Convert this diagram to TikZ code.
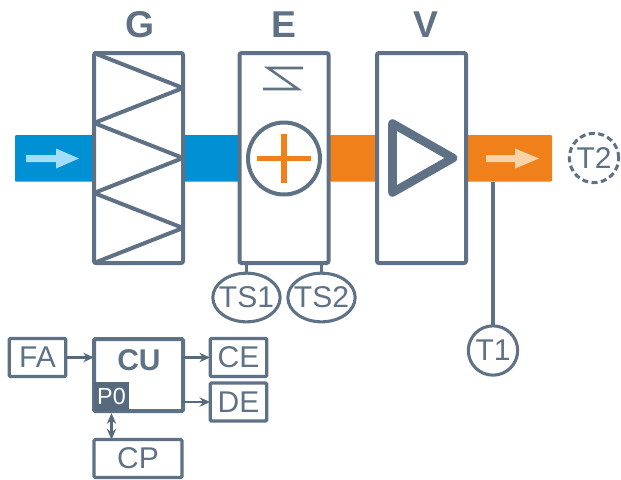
\documentclass[tikz,border=0pt]{standalone}
\usepackage{fontspec}
\setmainfont{Liberation Sans}
\usetikzlibrary{arrows.meta,shapes.geometric}
\definecolor{slate}{HTML}{5F7285}
\definecolor{darkslate}{HTML}{566A7E}
\definecolor{airblue}{HTML}{0090D4}
\definecolor{airorange}{HTML}{F0801A}
\definecolor{lightblue}{HTML}{A3DDF8}
\definecolor{lightorange}{HTML}{FBD3A8}
\newcommand{\fs}[1]{\fontsize{#1}{#1}\selectfont}
\tikzset{
  unit/.style={draw=slate,fill=white,line width=3pt,rounded corners=1.5pt,inner sep=0pt,outer sep=0pt,minimum width=66.75pt,minimum height=157.5pt},
  duct/.style={inner sep=0pt,outer sep=0pt,rounded corners=0.8pt,minimum height=34.9pt},
  title/.style={text=slate,font=\fs{28}\bfseries,inner sep=0pt},
  sensor/.style={draw=slate,fill=white,line width=2.3pt,inner sep=-9pt,outer sep=0pt,text=slate,font=\fs{22.5}},
  smallbox/.style={draw=slate,fill=white,line width=2.4pt,rounded corners=1pt,inner sep=0pt,outer sep=0pt,text=slate,font=\fs{22.5}},
  conn/.style={draw=darkslate,line width=2.1pt},
  tipped/.style={conn,-{Stealth[length=8pt,width=7pt]}},
  wire/.style={slate,line width=2.4pt},
}
\begin{document}
\begin{tikzpicture}[x=0.75pt,y=-0.75pt]
\useasboundingbox (0,0) rectangle (621,479);
% ducts
\node[duct,fill=airblue,minimum width=168.75pt] (inbar) at (127.5,158.3) {};
\node[duct,fill=airorange,minimum width=36pt] (midbar) at (354,158.3) {};
\node[duct,fill=airorange,minimum width=67.5pt] (outbar) at (507,158.3) {};
% flow arrows
\fill[lightblue] (26,155) -- (56,155) -- (56,148.5) -- (79,158.5) -- (56,168.5) -- (56,162) -- (26,162) -- cycle;
\fill[lightorange] (486,155) -- (515,155) -- (515,148.5) -- (539,158.5) -- (515,168.5) -- (515,162) -- (486,162) -- cycle;
% units
\node[unit] (G) at (138.5,158) {};
\node[unit] (E) at (284,158) {};
\node[unit] (V) at (421.5,158) {};
\node[title] (Gt) at (140,25) {G};
\node[title] (Et) at (284,25) {E};
\node[title] (Vt) at (426,25) {V};
% filter zigzag
\draw[slate,line width=3pt,line join=round] (94,53) -- (183,88) -- (94,123) -- (183,158) -- (94,193) -- (183,228) -- (94,263);
% heater symbol
\draw[slate,line width=1.9pt,line join=miter] (303,68) -- (268,68) -- (298,89) -- (263,89);
\node[draw=slate,fill=white,line width=3pt,circle,minimum size=54pt,inner sep=0pt,outer sep=0pt] (heater) at (284,158.5) {};
\draw[airorange,line width=3.8pt] (257,158.5) -- (311,158.5) (284,134) -- (284,183);
% fan
\draw[slate,line width=6.4pt,line join=round] (392.5,123.5) -- (453,158) -- (392.5,192.5) -- cycle;
% sensors
\node[sensor,ellipse,minimum width=50.5pt,minimum height=36.5pt] (TS1) at (246.5,297.5) {TS1};
\node[sensor,ellipse,minimum width=50.5pt,minimum height=36.5pt] (TS2) at (321.5,297.5) {TS2};
\draw[wire] (TS1.north) -- (TS1.north |- E.south);
\draw[wire] (TS2.north) -- (TS2.north |- E.south);
\node[sensor,circle,minimum size=37pt] (T1) at (493,350.5) {T1};
\draw[wire] (T1.north) -- (T1.north |- outbar.south);
\node[sensor,circle,minimum size=37pt,dash pattern=on 4.5pt off 2.6pt] (T2) at (594,158) {T2};
% control part
\node[smallbox,minimum width=42.5pt,minimum height=28.5pt] (FA) at (37.5,357.5) {FA};
\node[draw=slate,fill=white,line width=3pt,rounded corners=1pt,inner sep=0pt,outer sep=0pt,minimum width=66.75pt,minimum height=54pt] (CU) at (138.5,375) {};
\node[text=slate,font=\fs{22.5}\bfseries,inner sep=0pt] (CUt) at (139,360.5) {CU};
\node[fill=darkslate,text=white,font=\fs{17.5},inner sep=0pt,outer sep=0pt,minimum width=26.5pt,minimum height=22pt] (P0) at (111.5,396.5) {P0};
\node[smallbox,minimum width=42.5pt,minimum height=28.5pt] (CE) at (238.5,357.5) {CE};
\node[smallbox,minimum width=42.5pt,minimum height=28.5pt] (DE) at (238.5,402) {DE};
\node[smallbox,minimum width=66pt,minimum height=28.5pt] (CP) at (138,458.5) {CP};
\draw[tipped] (FA.east) -- (FA.east -| CU.west);
\draw[tipped] (CE.west -| CU.east) -- (CE.west);
\draw[tipped] (DE.west -| CU.east) -- (DE.west);
\draw[conn,{Stealth[length=8pt,width=7pt]}-{Stealth[length=8pt,width=7pt]}] (P0.south) ++(0,2) -- (P0.south |- CP.north);
\end{tikzpicture}
\end{document}
